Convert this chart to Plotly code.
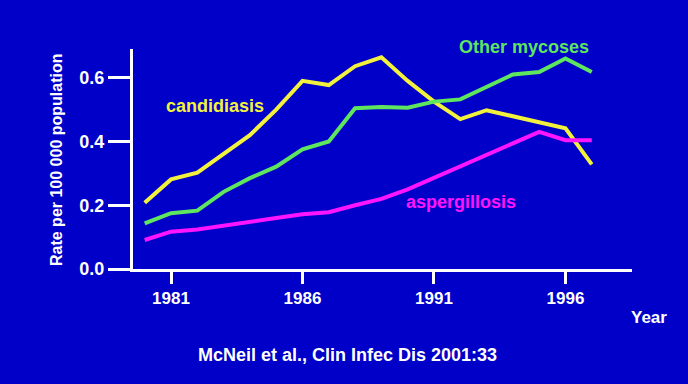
import plotly.graph_objects as go

years = list(range(1980, 1998))
candidiasis = [0.208, 0.281, 0.302, 0.36, 0.42, 0.50, 0.59, 0.577, 0.636, 0.664,
               0.59, 0.525, 0.47, 0.498, 0.48, 0.46, 0.441, 0.328]
other_mycoses = [0.143, 0.175, 0.183, 0.242, 0.285, 0.321, 0.375, 0.40, 0.504, 0.508,
                 0.506, 0.525, 0.532, 0.57, 0.61, 0.618, 0.66, 0.618]
aspergillosis = [0.091, 0.117, 0.124, 0.135, 0.148, 0.16, 0.172, 0.178, 0.20, 0.22,
                 0.25, 0.286, 0.322, 0.358, 0.394, 0.43, 0.404, 0.404]

x_ticks = [1981, 1986, 1991, 1996]
y_ticks = [0.0, 0.2, 0.4, 0.6]
y_tick_labels = ["0.0", "0.2", "0.4", "0.6"]

BG = "#0000C8"
YELLOW = "#F2F23C"
GREEN = "#5EE65E"
MAGENTA = "#FF14FF"
FONT = "Liberation Sans, Arial, sans-serif"

fig = go.Figure()
for vals, col in [(candidiasis, YELLOW), (other_mycoses, GREEN), (aspergillosis, MAGENTA)]:
    fig.add_trace(go.Scatter(x=years, y=vals, mode="lines",
                             line=dict(color=col, width=4), showlegend=False,
                             hoverinfo="skip"))

# plot area pixel geometry
L, R, T, B = 133, 632, 49, 269
W, H = 688, 384

def px(x):
    return (x - L) / (R - L)

def py(y):
    return (B - y) / (B - T)

annos = [
    ("Other mycoses", 524, 47, GREEN, 18),
    ("candidiasis", 215, 106, YELLOW, 18),
    ("aspergillosis", 461, 202, MAGENTA, 18),
    ("Year", 649, 317, "white", 17),
    ("McNeil et al., Clin Infec Dis 2001:33", 347, 355, "white", 18),
]
for text, x, y, col, size in annos:
    fig.add_annotation(text="<b>%s</b>" % text, x=px(x), y=py(y), xref="paper", yref="paper",
                       showarrow=False, font=dict(color=col, size=size, family=FONT),
                       xanchor="center", yanchor="middle")

fig.add_annotation(text="<b>Rate per 100 000 population</b>", x=px(56), y=py(160),
                   xref="paper", yref="paper", showarrow=False, textangle=-90,
                   font=dict(color="white", size=16, family=FONT),
                   xanchor="center", yanchor="middle")

fig.update_layout(
    width=W, height=H,
    margin=dict(l=L, r=W - R, t=T, b=H - B, pad=0),
    paper_bgcolor=BG, plot_bgcolor=BG,
    font=dict(family=FONT, color="white"),
    xaxis=dict(range=[1979.555, 1998.53], tickvals=x_ticks,
               ticktext=["<b>%d</b>" % v for v in x_ticks],
               showgrid=False, zeroline=False, showline=True, linecolor="white",
               linewidth=3, ticks="outside", ticklen=12, tickwidth=3, tickcolor="white",
               tickfont=dict(size=17, color="white", family=FONT), fixedrange=True),
    yaxis=dict(range=[0, 0.69], tickvals=y_ticks,
               ticktext=["<b>%s</b>" % t for t in y_tick_labels],
               showgrid=False, zeroline=False, showline=True, linecolor="white",
               linewidth=3, ticks="outside", ticklen=22, tickwidth=3, tickcolor="white",
               tickfont=dict(size=18, color="white", family=FONT), fixedrange=True),
)

fig.write_html("out.html", config={"displayModeBar": False},
               post_script="document.body.style.margin='0';document.body.style.background='%s';" % BG)
